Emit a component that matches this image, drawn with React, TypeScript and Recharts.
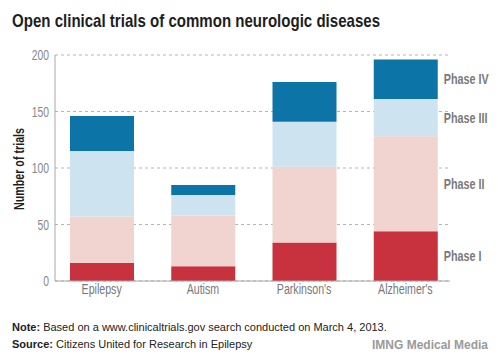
import React from 'react'
import { BarChart, Bar, XAxis, YAxis, CartesianGrid, LabelList } from 'recharts'

const diseases = ['Epilepsy', 'Autism', "Parkinson's", "Alzheimer's"]
const phase1 = [16, 13, 34, 44]
const phase2 = [41, 45, 67, 84]
const phase3 = [58, 18, 40, 33]
const phase4 = [31, 9, 35, 35]
const yTicks = [0, 50, 100, 150, 200]

const phases = [
  { key: 'p1', name: 'Phase I', color: '#c8313e' },
  { key: 'p2', name: 'Phase II', color: '#f1d3cf' },
  { key: 'p3', name: 'Phase III', color: '#cde4f0' },
  { key: 'p4', name: 'Phase IV', color: '#0d74a8' }
]

const data = diseases.map((d, i) => ({
  disease: d,
  p1: phase1[i],
  p2: phase2[i],
  p3: phase3[i],
  p4: phase4[i]
}))

const sans = "'Liberation Sans', Arial, sans-serif"

// no condensed face installed, so squeeze Liberation Sans horizontally
function Narrow({ x, y, anchor = 'start', size = 13, bold = false, fill = '#777', sx = 0.76, children }: any) {
  return (
    <g transform={`translate(${x},${y})`}>
      <text
        transform={`scale(${sx},1)`}
        textAnchor={anchor}
        fontFamily={sans}
        fontSize={size}
        fontWeight={bold ? 'bold' : 'normal'}
        fill={fill}
      >
        {children}
      </text>
    </g>
  )
}

const XTick = (props: any) => (
  <Narrow x={props.x} y={props.y + 11} anchor="middle" size={14} fill="#777">
    {props.payload.value}
  </Narrow>
)

const YTick = (props: any) => (
  <Narrow x={props.x} y={props.y + 5} anchor="end" size={14} fill="#888" sx={0.74}>
    {props.payload.value}
  </Narrow>
)

const YTitle = () => (
  <text
    transform="translate(24,169) rotate(-90)"
    textAnchor="middle"
    fontFamily={sans}
    fontWeight="bold"
    fontSize={14}
    fill="#1e1e1e"
    textLength={82}
    lengthAdjust="spacingAndGlyphs"
  >
    Number of trials
  </text>
)

// phase name beside the last (Alzheimer's) bar, centred on its segment
const phaseLabel = (name: string) => (props: any) => {
  const { x, y, width, height, index } = props
  if (index !== diseases.length - 1) return null
  return (
    <Narrow x={x + width + 6} y={y + height / 2 + 5} size={15} bold fill="#7a7a7a" sx={0.72}>
      {name}
    </Narrow>
  )
}

export default function App() {
  return (
    <div style={{ position: 'absolute', left: 0, top: 0, width: 498, height: 363, background: '#fff' }}>
      <svg width={498} height={40} style={{ position: 'absolute', left: 0, top: 0 }}>
        <text
          x={12}
          y={27}
          fontFamily={sans}
          fontWeight="bold"
          fontSize={19}
          fill="#1e1e1e"
          textLength={368}
          lengthAdjust="spacingAndGlyphs"
        >
          Open clinical trials of common neurologic diseases
        </text>
      </svg>

      <BarChart
        width={498}
        height={363}
        data={data}
        margin={{ top: 55, right: 48, bottom: 52, left: 0 }}
        barSize={64}
      >
        <CartesianGrid vertical={false} stroke="#b5b5b5" strokeDasharray="3 3" />
        <XAxis
          dataKey="disease"
          height={30}
          padding={{ left: -4, right: -6 }}
          axisLine={{ stroke: '#a8a8a8' }}
          tickLine={false}
          tickSize={0}
          tickMargin={2}
          tick={<XTick />}
        />
        <YAxis
          width={55}
          domain={[0, 200]}
          ticks={yTicks}
          interval={0}
          axisLine={{ stroke: '#a8a8a8' }}
          tickLine={false}
          tickSize={0}
          tickMargin={6}
          tick={<YTick />}
          label={<YTitle />}
        />
        {phases.map((p) => (
          <Bar key={p.key} dataKey={p.key} stackId="a" fill={p.color} isAnimationActive={false}>
            <LabelList dataKey={p.key} content={phaseLabel(p.name)} />
          </Bar>
        ))}
      </BarChart>

      <div style={{ position: 'absolute', left: 12, top: 321, fontFamily: sans, fontSize: 11, color: '#222', whiteSpace: 'nowrap' }}>
        <b>Note:</b> Based on a www.clinicaltrials.gov search conducted on March 4, 2013.
      </div>
      <div style={{ position: 'absolute', left: 12, top: 338, fontFamily: sans, fontSize: 11, color: '#222', whiteSpace: 'nowrap' }}>
        <b>Source:</b> Citizens United for Research in Epilepsy
      </div>
      <div style={{ position: 'absolute', right: 10, top: 338, fontFamily: sans, fontSize: 12, fontWeight: 'bold', color: '#9a9a9a', whiteSpace: 'nowrap' }}>
        IMNG Medical Media
      </div>
    </div>
  )
}
